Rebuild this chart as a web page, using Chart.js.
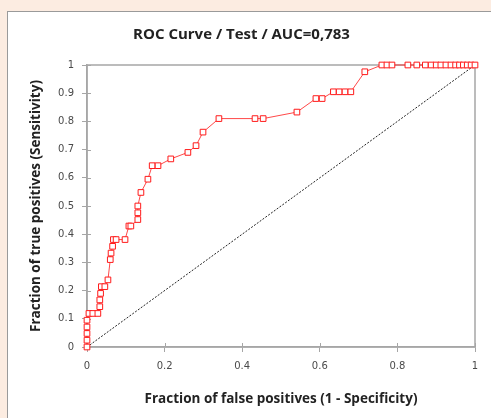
<!DOCTYPE html>
<html>
<head>
<meta charset="utf-8">
<script src="https://cdn.jsdelivr.net/npm/chart.js@4/dist/chart.umd.min.js"></script>
<style>
  html, body { margin: 0; padding: 0; background: #fcece1; }
  #panel {
    position: absolute; left: 7px; top: 11px; width: 484px; height: 407px;
    background: #fff; border-left: 1px solid #9a9a9a; border-top: 1px solid #9a9a9a;
  }
  #roc { display: block; }
</style>
</head>
<body>
<div id="panel"><canvas id="roc" width="483" height="406"></canvas></div>
<script>
// ROC points
var fpr = [0, 0, 0, 0, 0, 0.005, 0.015, 0.028, 0.033, 0.033, 0.035, 0.037, 0.046, 0.054,
  0.06, 0.062, 0.066, 0.068, 0.075, 0.098, 0.108, 0.113, 0.131, 0.131, 0.131, 0.139,
  0.157, 0.168, 0.183, 0.216, 0.26, 0.281, 0.299, 0.34, 0.433, 0.454, 0.541, 0.59,
  0.606, 0.635, 0.65, 0.665, 0.68, 0.716, 0.76, 0.773, 0.786, 0.827, 0.85, 0.872,
  0.887, 0.9, 0.912, 0.925, 0.938, 0.95, 0.96, 0.97, 0.98, 0.99, 1];
var tpr = [0, 0.024, 0.048, 0.071, 0.095, 0.119, 0.119, 0.119, 0.143, 0.167, 0.19, 0.214, 0.214, 0.238,
  0.31, 0.333, 0.357, 0.381, 0.381, 0.381, 0.429, 0.429, 0.452, 0.476, 0.5, 0.548,
  0.595, 0.643, 0.643, 0.667, 0.69, 0.714, 0.762, 0.81, 0.81, 0.81, 0.833, 0.881,
  0.881, 0.905, 0.905, 0.905, 0.905, 0.976, 1, 1, 1, 1, 1, 1,
  1, 1, 1, 1, 1, 1, 1, 1, 1, 1, 1];
var diagX = [0, 1];
var diagY = [0, 1];
var xTicks = [0, 0.2, 0.4, 0.6, 0.8, 1];
var yTicks = [0, 0.1, 0.2, 0.3, 0.4, 0.5, 0.6, 0.7, 0.8, 0.9, 1];

var rocPts = fpr.map(function (v, i) { return { x: v, y: tpr[i] }; });
var diagPts = diagX.map(function (v, i) { return { x: v, y: diagY[i] }; });

// plot box + tick marks that cross the axes
var frame = {
  id: 'frame',
  beforeDatasetsDraw: function (chart) {
    var a = chart.chartArea, c = chart.ctx;
    var sx = chart.scales.x, sy = chart.scales.y;
    c.save();
    c.strokeStyle = '#a6a6a6';
    c.lineWidth = 1.5;
    c.strokeRect(a.left, a.top, a.right - a.left, a.bottom - a.top);
    c.lineWidth = 1;
    c.beginPath();
    xTicks.forEach(function (v) {
      var px = Math.round(sx.getPixelForValue(v)) + 0.5;
      c.moveTo(px, a.bottom); c.lineTo(px, a.bottom - 4);
    });
    yTicks.forEach(function (v) {
      var py = Math.round(sy.getPixelForValue(v)) + 0.5;
      c.moveTo(a.left, py); c.lineTo(a.left + 4, py);
    });
    c.stroke();
    c.restore();
  }
};

var tickFont = { family: 'DejaVu Sans', size: 10 };
var titleFont = { family: 'Open Sans', size: 13.5, weight: 'bold' };
var tickLabel = function (v) { return String(v); };

new Chart('roc', {
  type: 'scatter',
  data: {
    datasets: [{
      data: rocPts,
      showLine: true,
      clip: false,
      borderColor: 'rgba(255,40,40,0.85)',
      borderWidth: 1,
      pointStyle: 'rect',
      pointRadius: 4,
      pointBorderWidth: 1,
      pointBorderColor: '#ff1a1a',
      pointBackgroundColor: '#fff',
      order: 1
    }, {
      data: diagPts,
      showLine: true,
      borderColor: '#222',
      borderWidth: 1,
      borderDash: [2, 1.5],
      pointRadius: 0,
      order: 2
    }]
  },
  options: {
    responsive: false,
    animation: false,
    layout: { padding: { right: 16 } },
    plugins: {
      legend: { display: false },
      tooltip: { enabled: false },
      title: {
        display: true,
        text: 'ROC Curve / Test / AUC=0,783',
        color: '#222',
        font: { family: 'Open Sans', size: 15, weight: 'bold' },
        padding: { top: 14, bottom: 21 }
      }
    },
    scales: {
      x: {
        type: 'linear', min: 0, max: 1,
        afterFit: function (s) { s.height = 71; },
        afterBuildTicks: function (s) { s.ticks = xTicks.map(function (v) { return { value: v }; }); },
        border: { display: true, color: '#a6a6a6', width: 1.5 },
        grid: { drawOnChartArea: false, tickLength: 5, color: '#a6a6a6' },
        ticks: { color: '#4a4a4a', font: tickFont, padding: 8, maxRotation: 0, callback: tickLabel },
        title: {
          display: true, text: 'Fraction of false positives (1 - Specificity)',
          color: '#222', font: titleFont, padding: { bottom: 11 }
        }
      },
      y: {
        type: 'linear', min: 0, max: 1,
        afterFit: function (s) { s.width = 79; },
        afterBuildTicks: function (s) { s.ticks = yTicks.map(function (v) { return { value: v }; }); },
        border: { display: true, color: '#a6a6a6', width: 1.5 },
        grid: { drawOnChartArea: false, tickLength: 5, color: '#a6a6a6' },
        ticks: { color: '#4a4a4a', font: tickFont, padding: 8, callback: tickLabel },
        title: {
          display: true, text: 'Fraction of true positives (Sensitivity)',
          color: '#222', font: titleFont, padding: { top: 20 }
        }
      }
    }
  },
  plugins: [frame]
});
</script>
</body>
</html>
